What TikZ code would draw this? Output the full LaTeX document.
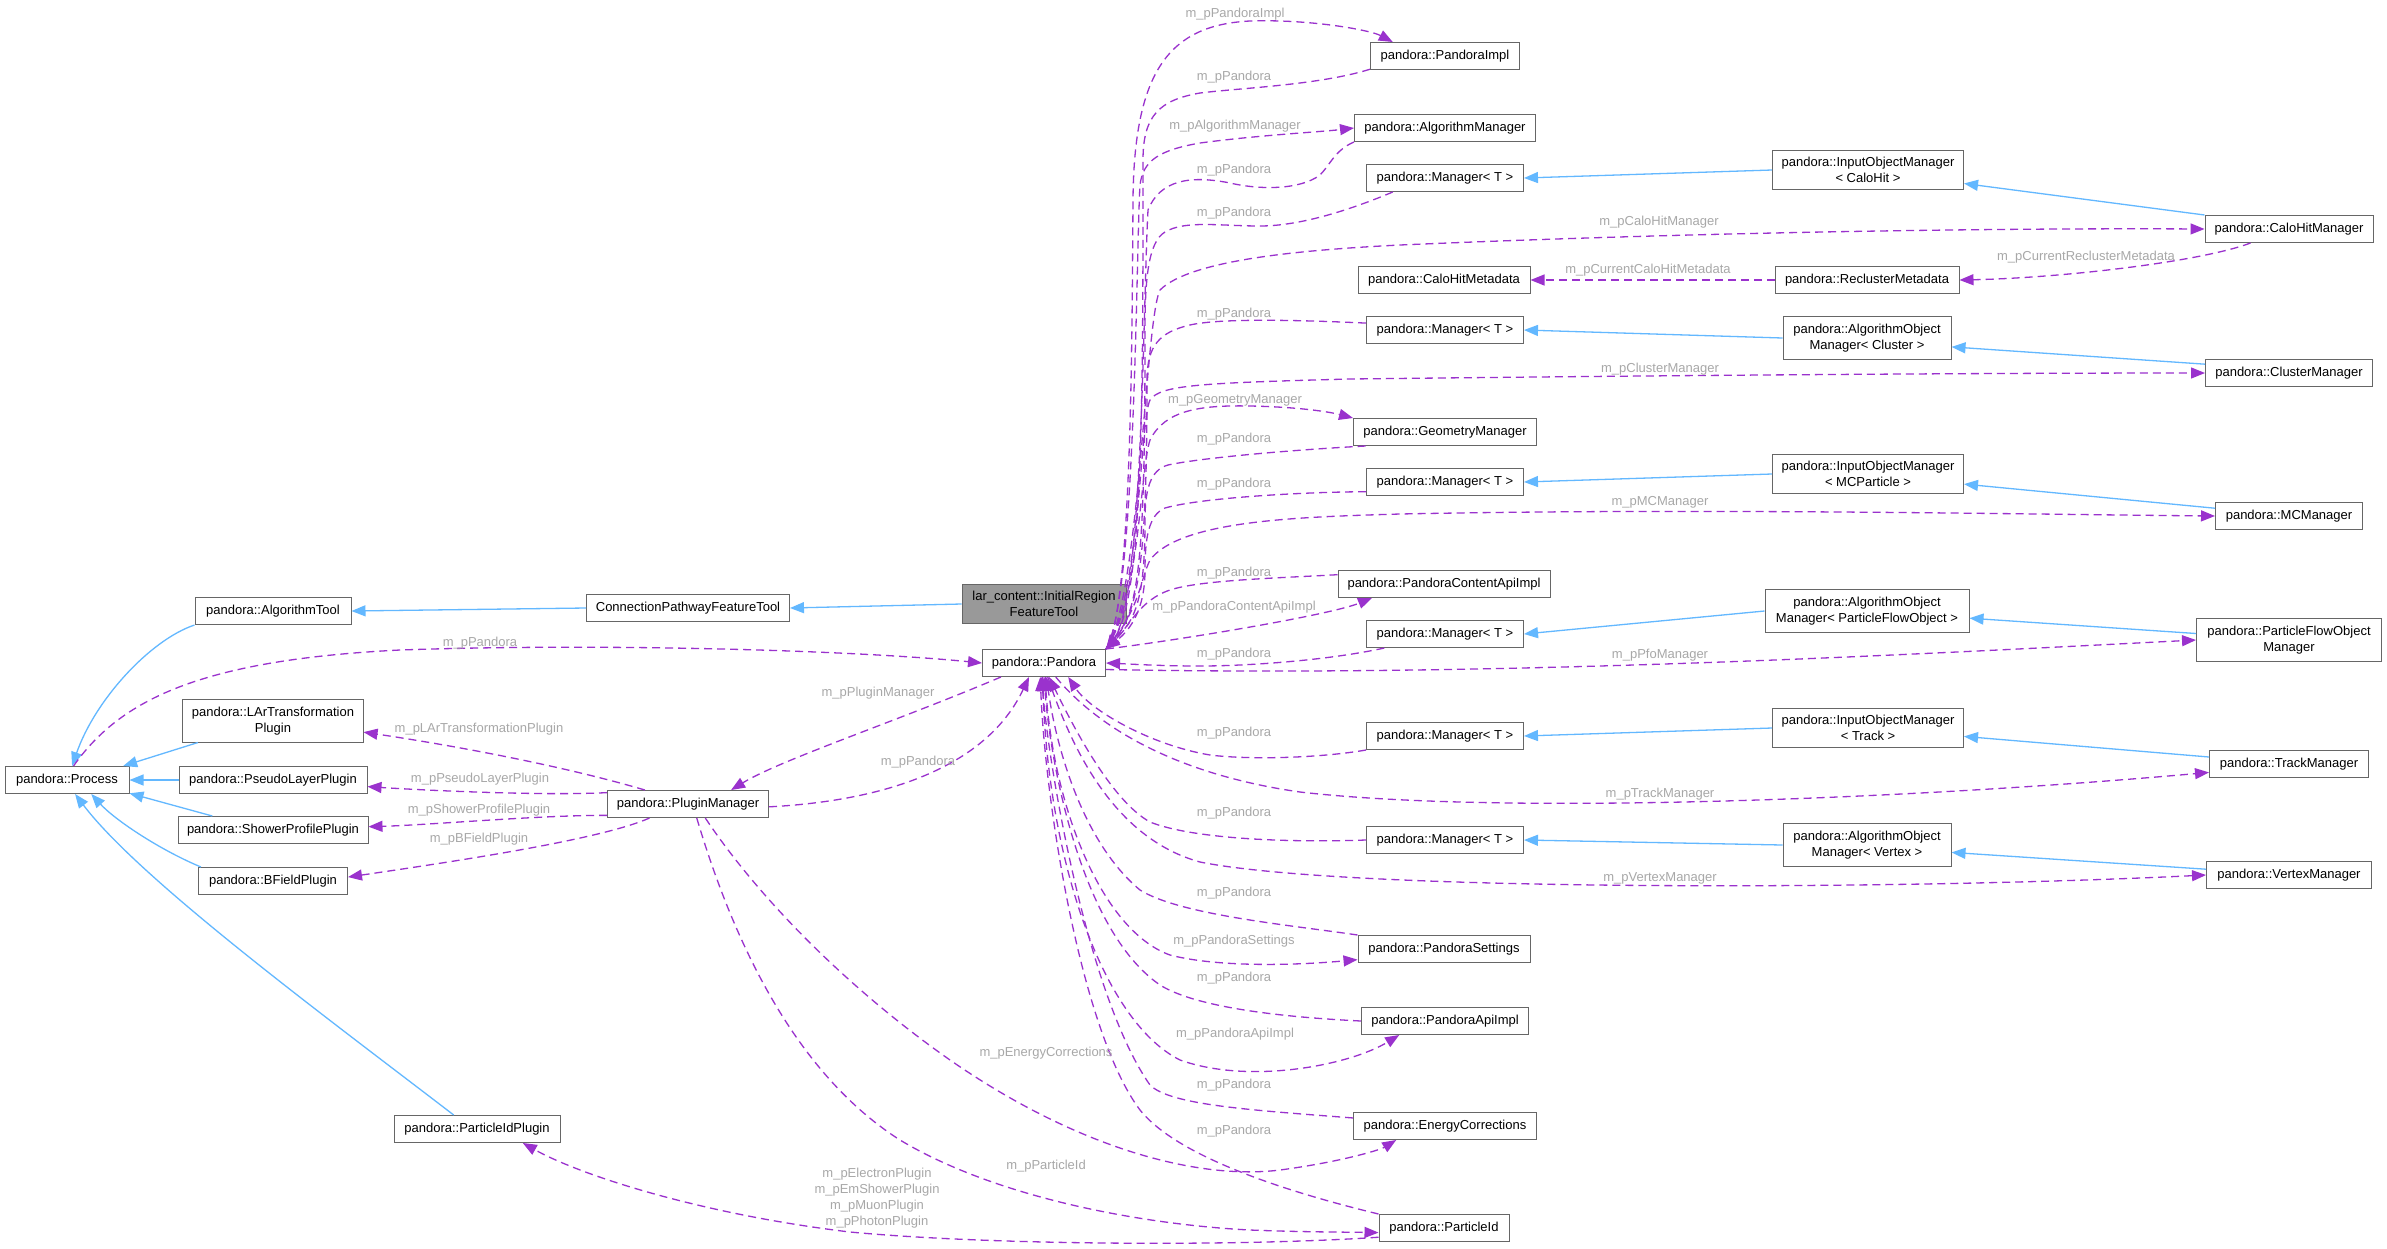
\documentclass[tikz,border=0pt]{standalone}
\usepackage{fontspec}
\setmainfont{Liberation Sans}
\usepackage{xcolor}
\usetikzlibrary{arrows.meta}
\definecolor{boxgray}{HTML}{666666}
\definecolor{hlgray}{HTML}{999999}
\definecolor{inhblue}{HTML}{63B8FF}
\definecolor{usepurple}{HTML}{9A32CD}
\definecolor{lblgray}{HTML}{A8A8A8}

\begin{document}
\begin{tikzpicture}[x=1pt,y=-1pt,
    box/.style={draw=boxgray, fill=white, line width=1pt, minimum height=27pt,
      inner xsep=9pt, inner ysep=7pt, align=center, font=\fontsize{13}{16}\selectfont},
    hl/.style={box, fill=hlgray},
    inh/.style={draw=inhblue, line width=1.3pt, -{Triangle[length=14pt,width=11pt]}},
    use/.style={draw=usepurple, line width=1.3pt, dash pattern=on 8pt off 5pt,
      -{Triangle[length=14pt,width=11pt]}},
    lbl/.style={text=lblgray, inner sep=0pt, align=center, font=\fontsize{13}{16}\selectfont}]
  \fill[white] (0,0) rectangle (2387,1248);
  \useasboundingbox (0,0) rectangle (2387,1248);

  % left part
  \node[box, minimum width=124pt] (proc) at (67,780) {pandora::Process};
  \node[box, minimum width=156pt] (algt) at (273,611) {pandora::AlgorithmTool};
  \node[box, minimum width=203pt] (cpft) at (688,608) {ConnectionPathwayFeatureTool};
  \node[hl, minimum width=164pt] (irft) at (1044,604) {lar\_content::InitialRegion\\FeatureTool};
  \node[box, minimum width=180pt] (larp) at (273,721) {pandora::LArTransformation\\Plugin};
  \node[box, minimum width=188pt] (pslp) at (273,780) {pandora::PseudoLayerPlugin};
  \node[box, minimum width=190pt] (shpp) at (273,830) {pandora::ShowerProfilePlugin};
  \node[box, minimum width=149pt] (bfp) at (273,881) {pandora::BFieldPlugin};
  \node[box, minimum width=161pt] (pm) at (688,804) {pandora::PluginManager};
  \node[box, minimum width=166pt] (pidp) at (477,1129) {pandora::ParticleIdPlugin};
  \node[box, minimum width=123pt] (pan) at (1044,663) {pandora::Pandora};

  % middle column
  \node[box, minimum width=149pt] (pimpl) at (1445,56) {pandora::PandoraImpl};
  \node[box, minimum width=181pt] (algm) at (1445,128) {pandora::AlgorithmManager};
  \node[box, minimum width=157pt] (mgr1) at (1445,178) {pandora::Manager< T >};
  \node[box, minimum width=172pt] (chmd) at (1444,280) {pandora::CaloHitMetadata};
  \node[box, minimum width=157pt] (mgr2) at (1445,330) {pandora::Manager< T >};
  \node[box, minimum width=183pt] (geom) at (1445,432) {pandora::GeometryManager};
  \node[box, minimum width=157pt] (mgr3) at (1445,482) {pandora::Manager< T >};
  \node[box, minimum width=212pt] (pcai) at (1444,584) {pandora::PandoraContentApiImpl};
  \node[box, minimum width=157pt] (mgr4) at (1445,634) {pandora::Manager< T >};
  \node[box, minimum width=157pt] (mgr5) at (1445,736) {pandora::Manager< T >};
  \node[box, minimum width=157pt] (mgr6) at (1445,840) {pandora::Manager< T >};
  \node[box, minimum width=172pt] (pset) at (1444,949) {pandora::PandoraSettings};
  \node[box, minimum width=167pt] (papi) at (1445,1021) {pandora::PandoraApiImpl};
  \node[box, minimum width=183pt] (ec) at (1445,1126) {pandora::EnergyCorrections};
  \node[box, minimum width=130pt] (pid) at (1444,1228) {pandora::ParticleId};

  % right columns
  \node[box, minimum width=191pt] (iomch) at (1868,170) {pandora::InputObjectManager\\< CaloHit >};
  \node[box, minimum width=184pt] (rcm) at (1867,280) {pandora::ReclusterMetadata};
  \node[box, minimum width=168pt] (aomcl) at (1867,338) {pandora::AlgorithmObject\\Manager< Cluster >};
  \node[box, minimum width=191pt] (iommc) at (1868,474) {pandora::InputObjectManager\\< MCParticle >};
  \node[box, minimum width=204pt] (aompfo) at (1867,611) {pandora::AlgorithmObject\\Manager< ParticleFlowObject >};
  \node[box, minimum width=191pt] (iomtr) at (1868,728) {pandora::InputObjectManager\\< Track >};
  \node[box, minimum width=168pt] (aomvx) at (1867,845) {pandora::AlgorithmObject\\Manager< Vertex >};
  \node[box, minimum width=168pt] (chm) at (2289,229) {pandora::CaloHitManager};
  \node[box, minimum width=167pt] (clm) at (2289,373) {pandora::ClusterManager};
  \node[box, minimum width=147pt] (mcm) at (2289,516) {pandora::MCManager};
  \node[box, minimum width=185pt] (pfom) at (2289,640) {pandora::ParticleFlowObject\\Manager};
  \node[box, minimum width=159pt] (trkm) at (2289,764) {pandora::TrackManager};
  \node[box, minimum width=165pt] (vtxm) at (2289,875) {pandora::VertexManager};

  % inheritance
  \draw[inh] (cpft.west) -- (algt.east);
  \draw[inh] (irft.west) -- (cpft.east);
  \draw[inh] (algt.south west) .. controls (150,640) and (95,700) .. (proc.70);
  \draw[inh] (larp.196) -- (proc.14);
  \draw[inh] (pslp.west) -- (proc.east);
  \draw[inh] (shpp.167) -- (proc.-12);
  \draw[inh] (bfp.169) .. controls (160,850) and (115,820) .. (proc.-30);
  \draw[inh] (pidp.149) .. controls (330,1020) and (140,880) .. (proc.-60);
  \draw[inh] (iomch.west) -- (mgr1.east);
  \draw[inh] (aomcl.west) -- (mgr2.east);
  \draw[inh] (iommc.west) -- (mgr3.east);
  \draw[inh] (aompfo.west) -- (mgr4.east);
  \draw[inh] (iomtr.west) -- (mgr5.east);
  \draw[inh] (aomvx.west) -- (mgr6.east);
  \draw[inh] (chm.north west) -- (iomch.-8);
  \draw[inh] (clm.174) -- (aomcl.-6);
  \draw[inh] (mcm.174) -- (iommc.-6);
  \draw[inh] (pfom.176) -- (aompfo.-4);
  \draw[inh] (trkm.175) -- (iomtr.-5);
  \draw[inh] (vtxm.176) -- (aomvx.-5);

  % usage, upper bundle
  \draw[use] (pan.north east) .. controls (1132,610) and (1132,330) .. (1133,200)
    .. controls (1134,70) and (1170,25) .. (1250,21) .. controls (1310,19) and (1370,30) .. (pimpl.165);
  \draw[use] (pimpl.190) .. controls (1320,85) and (1240,88) .. (1200,93)
    .. controls (1160,100) and (1143,115) .. (1143,160) .. controls (1143,400) and (1143,600) .. (pan.north east);
  \draw[use] (pan.north east) .. controls (1136,600) and (1136,250) .. (1140,185)
    .. controls (1143,160) and (1160,150) .. (1200,143) .. controls (1260,135) and (1320,132) .. (algm.west);
  \draw[use] (algm.south west) .. controls (1335,150) and (1330,165) .. (1320,175)
    .. controls (1300,190) and (1260,190) .. (1230,183) .. controls (1190,175) and (1160,180) .. (1148,210)
    .. controls (1143,300) and (1143,600) .. (pan.north east);
  \draw[use] (mgr1.195) .. controls (1350,210) and (1300,226) .. (1260,226)
    .. controls (1220,226) and (1185,220) .. (1165,232) .. controls (1148,242) and (1145,280) .. (1145,330)
    .. controls (1145,550) and (1140,610) .. (pan.north east);
  \draw[use] (pan.north east) .. controls (1140,600) and (1145,320) .. (1160,290)
    .. controls (1190,260) and (1300,250) .. (1400,245) .. controls (1700,232) and (2000,228) .. (chm.west);
  \draw[use] (mgr2.175) .. controls (1300,320) and (1220,318) .. (1190,325)
    .. controls (1160,332) and (1147,345) .. (1147,380) .. controls (1147,550) and (1140,610) .. (pan.north east);
  \draw[use] (pan.north east) .. controls (1140,600) and (1140,420) .. (1150,400)
    .. controls (1160,385) and (1200,383) .. (1350,379) .. controls (1700,375) and (2000,373) .. (clm.west);
  \draw[use] (pan.north east) .. controls (1140,600) and (1140,470) .. (1150,440)
    .. controls (1165,410) and (1200,405) .. (1250,406) .. controls (1300,407) and (1330,412) .. (geom.north west);
  \draw[use] (geom.190) .. controls (1290,450) and (1200,458) .. (1168,465)
    .. controls (1150,470) and (1145,490) .. (1145,520) .. controls (1145,600) and (1135,620) .. (pan.north east);
  \draw[use] (mgr3.187) .. controls (1300,492) and (1200,498) .. (1165,508)
    .. controls (1148,515) and (1145,540) .. (1145,570) .. controls (1145,610) and (1130,630) .. (pan.north east);
  \draw[use] (pan.north east) .. controls (1140,610) and (1140,580) .. (1150,560)
    .. controls (1180,520) and (1300,517) .. (1400,514) .. controls (1700,508) and (2000,514) .. (mcm.west);
  \draw[use] (pcai.175) .. controls (1280,578) and (1200,580) .. (1170,590)
    .. controls (1140,600) and (1130,625) .. (pan.north east);
  \draw[use] (pan.north east) .. controls (1180,640) and (1330,615) .. (pcai.191);
  \draw[use] (mgr4.193) .. controls (1330,660) and (1250,666) .. (1200,666)
    .. controls (1160,666) and (1130,664) .. (pan.east);
  \draw[use] (pan.-6) .. controls (1500,677) and (1900,655) .. (pfom.west);
  \draw[use] (rcm.west) -- (chmd.east);
  \draw[use] (chm.200) .. controls (2200,262) and (2060,278) .. (rcm.east);

  % usage, lower bundle
  \draw[use] (mgr5.south west) .. controls (1320,758) and (1250,760) .. (1210,755)
    .. controls (1150,745) and (1090,710) .. (pan.-30);
  \draw[use] (pan.-50) .. controls (1100,730) and (1180,775) .. (1300,792)
    .. controls (1500,815) and (1900,800) .. (trkm.186);
  \draw[use] (mgr6.west) .. controls (1280,843) and (1190,838) .. (1150,822)
    .. controls (1110,800) and (1070,720) .. (pan.-70);
  \draw[use] (pan.-75) .. controls (1075,760) and (1120,840) .. (1200,862)
    .. controls (1350,892) and (1900,890) .. (vtxm.west);
  \draw[use] (pset.north west) .. controls (1290,925) and (1180,915) .. (1140,890)
    .. controls (1080,840) and (1055,740) .. (pan.-80);
  \draw[use] (pan.-85) .. controls (1050,800) and (1100,930) .. (1170,955)
    .. controls (1220,968) and (1300,965) .. (pset.187);
  \draw[use] (papi.west) .. controls (1300,1018) and (1200,1010) .. (1160,985)
    .. controls (1080,930) and (1050,760) .. (pan.-90);
  \draw[use] (pan.-95) .. controls (1045,850) and (1100,1020) .. (1180,1060)
    .. controls (1250,1085) and (1350,1065) .. (papi.197);
  \draw[use] (ec.175) .. controls (1250,1110) and (1170,1105) .. (1150,1085)
    .. controls (1090,1000) and (1050,780) .. (pan.-100);
  \draw[use] (pid.north west) .. controls (1300,1195) and (1180,1160) .. (1140,1110)
    .. controls (1080,1030) and (1045,800) .. (pan.-105);

  % usage, plugins
  \draw[use] (proc.65) .. controls (120,700) and (200,660) .. (400,650)
    .. controls (600,643) and (850,650) .. (pan.west);
  \draw[use] (pm.162) .. controls (560,765) and (450,745) .. (larp.-7);
  \draw[use] (pm.172) .. controls (540,796) and (420,790) .. (pslp.-4);
  \draw[use] (pm.188) .. controls (540,815) and (430,825) .. (shpp.2);
  \draw[use] (pm.200) .. controls (600,840) and (450,862) .. (bfp.3);
  \draw[use] (pan.198) .. controls (900,720) and (780,760) .. (pm.18);
  \draw[use] (pm.-2) .. controls (900,800) and (990,760) .. (pan.-137);
  \draw[use] (pm.-39) .. controls (760,900) and (850,990) .. (950,1060)
    .. controls (1080,1150) and (1200,1180) .. (1280,1170) .. controls (1340,1162) and (1380,1150) .. (ec.196);
  \draw[use] (pm.-58) .. controls (730,930) and (790,1070) .. (900,1140)
    .. controls (1000,1200) and (1150,1225) .. (1250,1230) .. controls (1300,1232) and (1340,1232) .. (pid.184);
  \draw[use] (pid.188) .. controls (1250,1246) and (1000,1246) .. (850,1232)
    .. controls (700,1214) and (580,1175) .. (pidp.-17);

  % labels
  \node[lbl] (l1) at (1235,14) {m\_pPandoraImpl};
  \node[lbl] (l2) at (1234,77) {m\_pPandora};
  \node[lbl] (l3) at (1235,126) {m\_pAlgorithmManager};
  \node[lbl] (l4) at (1234,170) {m\_pPandora};
  \node[lbl] (l5) at (1234,213) {m\_pPandora};
  \node[lbl] (l6) at (1659,222) {m\_pCaloHitManager};
  \node[lbl] (l7) at (1648,270) {m\_pCurrentCaloHitMetadata};
  \node[lbl] (l8) at (2086,257) {m\_pCurrentReclusterMetadata};
  \node[lbl] (l9) at (1234,314) {m\_pPandora};
  \node[lbl] (l10) at (1660,369) {m\_pClusterManager};
  \node[lbl] (l11) at (1235,400) {m\_pGeometryManager};
  \node[lbl] (l12) at (1234,439) {m\_pPandora};
  \node[lbl] (l13) at (1234,484) {m\_pPandora};
  \node[lbl] (l14) at (1660,502) {m\_pMCManager};
  \node[lbl] (l15) at (1234,573) {m\_pPandora};
  \node[lbl] (l16) at (1234,607) {m\_pPandoraContentApiImpl};
  \node[lbl] (l17) at (1234,654) {m\_pPandora};
  \node[lbl] (l18) at (1660,655) {m\_pPfoManager};
  \node[lbl] (l19) at (1234,733) {m\_pPandora};
  \node[lbl] (l20) at (1660,794) {m\_pTrackManager};
  \node[lbl] (l21) at (1234,813) {m\_pPandora};
  \node[lbl] (l22) at (1660,878) {m\_pVertexManager};
  \node[lbl] (l23) at (1234,893) {m\_pPandora};
  \node[lbl] (l24) at (1234,941) {m\_pPandoraSettings};
  \node[lbl] (l25) at (1234,978) {m\_pPandora};
  \node[lbl] (l26) at (1235,1034) {m\_pPandoraApiImpl};
  \node[lbl] (l27) at (1234,1085) {m\_pPandora};
  \node[lbl] (l28) at (1234,1131) {m\_pPandora};
  \node[lbl] (l29) at (1046,1053) {m\_pEnergyCorrections};
  \node[lbl] (l30) at (1046,1166) {m\_pParticleId};
  \node[lbl] (l31) at (877,1198) {m\_pElectronPlugin\\m\_pEmShowerPlugin\\m\_pMuonPlugin\\m\_pPhotonPlugin};
  \node[lbl] (l32) at (878,693) {m\_pPluginManager};
  \node[lbl] (l33) at (918,762) {m\_pPandora};
  \node[lbl] (l34) at (480,643) {m\_pPandora};
  \node[lbl] (l35) at (479,729) {m\_pLArTransformationPlugin};
  \node[lbl] (l36) at (480,779) {m\_pPseudoLayerPlugin};
  \node[lbl] (l37) at (479,810) {m\_pShowerProfilePlugin};
  \node[lbl] (l38) at (479,839) {m\_pBFieldPlugin};
\end{tikzpicture}
\end{document}
